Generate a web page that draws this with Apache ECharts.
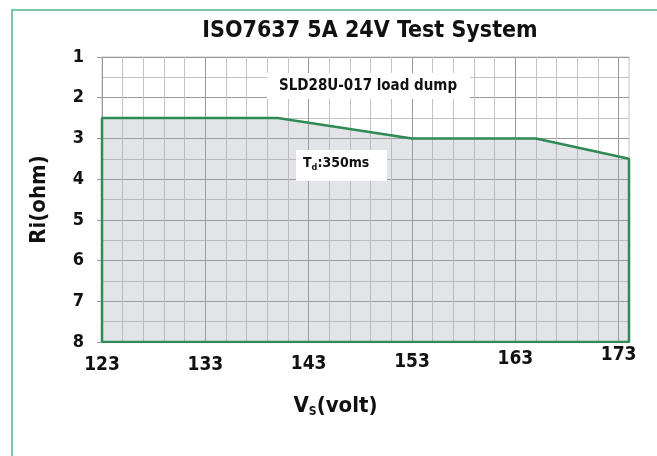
<!DOCTYPE html>
<html>
<head>
<meta charset="utf-8">
<script src="https://cdn.jsdelivr.net/npm/echarts@6/dist/echarts.min.js"></script>
<style>
  html, body { margin: 0; padding: 0; background: #fff; }
  #main { width: 657px; height: 456px; }
</style>
</head>
<body>
<div id="main"></div>
<script>
// ISO7637 5A 24V 测试曲线
var chartTitle = 'ISO7637 5A 24V Test System';
var partNote = 'SLD28U-017 load dump';
var xTicks = [123, 133, 143, 153, 163, 173];
var yTicks = [1, 2, 3, 4, 5, 6, 7, 8];
// 曲线边界 (Vs, Ri)
var edgeVs = [123, 123, 140, 153, 165, 174, 174, 123];
var edgeRi = [8, 2.5, 2.5, 3, 3, 3.5, 8, 8];

var fontFam = "'Liberation Sans Narrow', 'DejaVu Sans Condensed', sans-serif";
var clear = 'rgba(0,0,0,0)';

// 每个标签上移的量 (原图标签不在一条线上)
var liftStyle = {};
liftStyle[123] = 10; liftStyle[133] = 10; liftStyle[143] = 9;
liftStyle[153] = 7; liftStyle[163] = 4; liftStyle[173] = 0;

var rich = {};
for (var k in liftStyle) {
    rich['p' + k] = {
        padding: [liftStyle[k], 0, 0, 0],
        fontFamily: fontFam, fontWeight: 'bold', fontSize: 19, color: '#111'
    };
}

var pts = [];
for (var i = 0; i < edgeVs.length; i++) {
    pts.push([edgeVs[i], edgeRi[i]]);
}

var myChart = echarts.init(document.getElementById('main'));
var option = {
    animation: false,
    backgroundColor: '#fff',
    title: {
        text: chartTitle,
        left: 370,
        textAlign: 'center',
        top: 20,
        padding: 0,
        textStyle: { fontFamily: fontFam, fontWeight: 'bold', fontSize: 23, color: '#111' }
    },
    grid: {
        left: 102, right: 28, top: 57, bottom: 114,
        show: true, borderColor: '#c4c4c4', borderWidth: 1, backgroundColor: clear
    },
    xAxis: {
        type: 'value',
        min: 123, max: 174, interval: 1,
        name: '{a|V}{b|S}{a|(volt)}',
        nameLocation: 'middle',
        nameGap: 52,
        nameTextStyle: {
            padding: [0, 60, 0, 0],
            rich: {
                a: { fontFamily: fontFam, fontWeight: 'bold', fontSize: 22, color: '#111' },
                b: { fontFamily: fontFam, fontWeight: 'bold', fontSize: 12, color: '#111', padding: [12, 0, 0, 0] }
            }
        },
        axisLine: { show: false },
        axisTick: { show: false },
        axisLabel: {
            margin: 4,
            formatter: function (v) {
                if (xTicks.indexOf(v) < 0) return '';
                return '{p' + v + '|' + v + '}';
            },
            rich: rich
        },
        splitLine: {
            show: true,
            lineStyle: {
                width: 1,
                color: ['#999999', clear, '#c4c4c4', clear, '#c4c4c4', clear, '#c4c4c4', clear, '#c4c4c4', clear]
            }
        }
    },
    yAxis: {
        type: 'value',
        inverse: true,
        min: 1, max: 8, interval: 1,
        name: 'Ri(ohm)',
        nameLocation: 'middle',
        nameGap: 52,
        nameTextStyle: { fontFamily: fontFam, fontWeight: 'bold', fontSize: 22, color: '#111' },
        axisLine: { show: false },
        axisTick: { show: true, length: 5, lineStyle: { color: '#999' } },
        axisLabel: {
            margin: 18,
            fontFamily: fontFam, fontWeight: 'bold', fontSize: 18, color: '#111',
            formatter: function (v) { return yTicks.indexOf(v) < 0 ? '' : String(v); }
        },
        splitLine: { show: true, lineStyle: { color: '#999999', width: 1 } },
        minorTick: { show: false, splitNumber: 2 },
        minorSplitLine: { show: true, lineStyle: { color: '#c4c4c4', width: 1 } }
    },
    series: [{
        type: 'line',
        data: pts,
        symbol: 'none',
        z: 3,
        lineStyle: { color: '#2f8a55', width: 2.5 },
        // 半透明填充，网格线可透出
        areaStyle: { color: 'rgb(158,165,178)', opacity: 0.3, origin: 'end' }
    }],
    graphic: [
        {
            type: 'rect', z: 100,
            shape: { x: 12, y: 10, width: 700, height: 500 },
            style: { fill: null, stroke: '#7cc7a3', lineWidth: 2 }
        },
        {
            type: 'rect', z: 100,
            shape: { x: 267, y: 73, width: 203, height: 26 },
            style: { fill: '#fff' }
        },
        {
            type: 'text', z: 101,
            style: {
                x: 279, y: 86, text: partNote, verticalAlign: 'middle',
                font: "bold 15px 'Liberation Sans Narrow', 'DejaVu Sans Condensed', sans-serif",
                fill: '#111'
            }
        },
        {
            type: 'rect', z: 100,
            shape: { x: 296, y: 150, width: 91, height: 31 },
            style: { fill: '#fff' }
        },
        {
            type: 'text', z: 101,
            style: {
                x: 303, y: 163, text: '{a|T}{b|d}{a|:350ms}', verticalAlign: 'middle',
                rich: {
                    a: { fontFamily: fontFam, fontWeight: 'bold', fontSize: 14, fill: '#111' },
                    b: { fontFamily: fontFam, fontWeight: 'bold', fontSize: 9, fill: '#111', padding: [9, 0, 0, 0] }
                }
            }
        }
    ]
};
myChart.setOption(option);
</script>
</body>
</html>
